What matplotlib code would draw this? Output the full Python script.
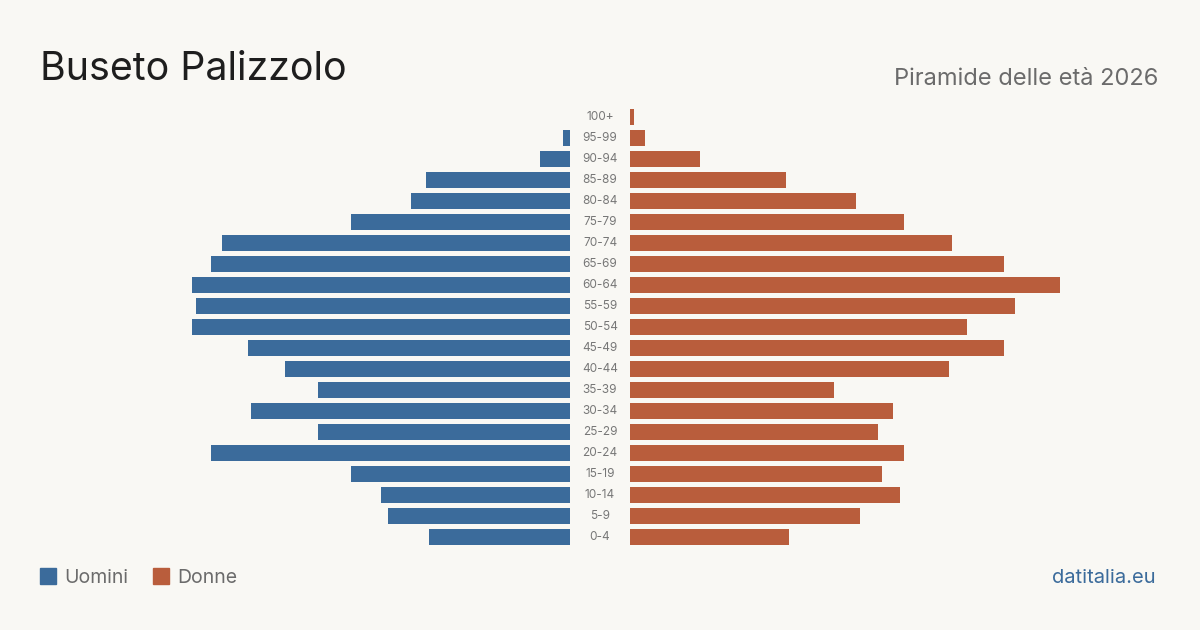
import matplotlib.pyplot as plt
from matplotlib.patches import Rectangle

plt.rcParams['font.family'] = ['Inter', 'DejaVu Sans']

fasce = ['100+', '95-99', '90-94', '85-89', '80-84', '75-79', '70-74', '65-69',
         '60-64', '55-59', '50-54', '45-49', '40-44', '35-39', '30-34', '25-29',
         '20-24', '15-19', '10-14', '5-9', '0-4']
uomini = [0, 2, 8, 39, 43, 59, 94, 97, 102, 101, 102, 87, 77, 68, 86, 68, 97, 59, 51, 49, 38]
donne = [1, 4, 19, 42, 61, 74, 87, 101, 116, 104, 91, 101, 86, 55, 71, 67, 74, 68, 73, 62, 43]

blu = '#3b6b9b'
rosso = '#b95d3c'
sfondo = '#f9f8f4'

fig = plt.figure(figsize=(12, 6.3), dpi=100, facecolor=sfondo)
# area del grafico: px 40-1160 in orizzontale, righe da 116 a 536
ax = fig.add_axes([40/1200, 1 - 547.5/630, 1120/1200, 441/630])
ax.set_facecolor(sfondo)
scala = 3.705  # px per persona
gap = 30 / scala
ax.set_xlim(-560/scala, 560/scala)
ax.set_ylim(-0.5, len(fasce) - 0.5)
ax.invert_yaxis()

y = list(range(len(fasce)))
ax.barh(y, [-u for u in uomini], left=-gap, height=0.8, color=blu)
ax.barh(y, donne, left=gap, height=0.8, color=rosso)
for i, lab in enumerate(fasce):
    ax.text(0, i, lab, ha='center', va='center', fontsize=8.5, color='#777777')
ax.axis('off')

fig.text(40/1200, 1 - 80/630, 'Buseto Palizzolo', fontsize=28.3, color='#1e1e1e',
         ha='left', va='baseline')
fig.text(1158/1200, 1 - 85/630, 'Piramide delle età 2026', fontsize=17,
         color='#6b6b6b', ha='right', va='baseline')

# legenda
fig.patches.append(Rectangle((40/1200, 1 - 584/630), 16/1200, 16/630,
                             transform=fig.transFigure, color=blu))
fig.text(64/1200, 1 - 583/630, 'Uomini', fontsize=14, color='#6b6b6b', va='baseline')
fig.patches.append(Rectangle((153/1200, 1 - 584/630), 16/1200, 16/630,
                             transform=fig.transFigure, color=rosso))
fig.text(177/1200, 1 - 583/630, 'Donne', fontsize=14, color='#6b6b6b', va='baseline')
fig.text(1156/1200, 1 - 583/630, 'datitalia.eu', fontsize=14.5, color=blu,
         ha='right', va='baseline')

fig.savefig('out.png', dpi=100, facecolor=sfondo)
